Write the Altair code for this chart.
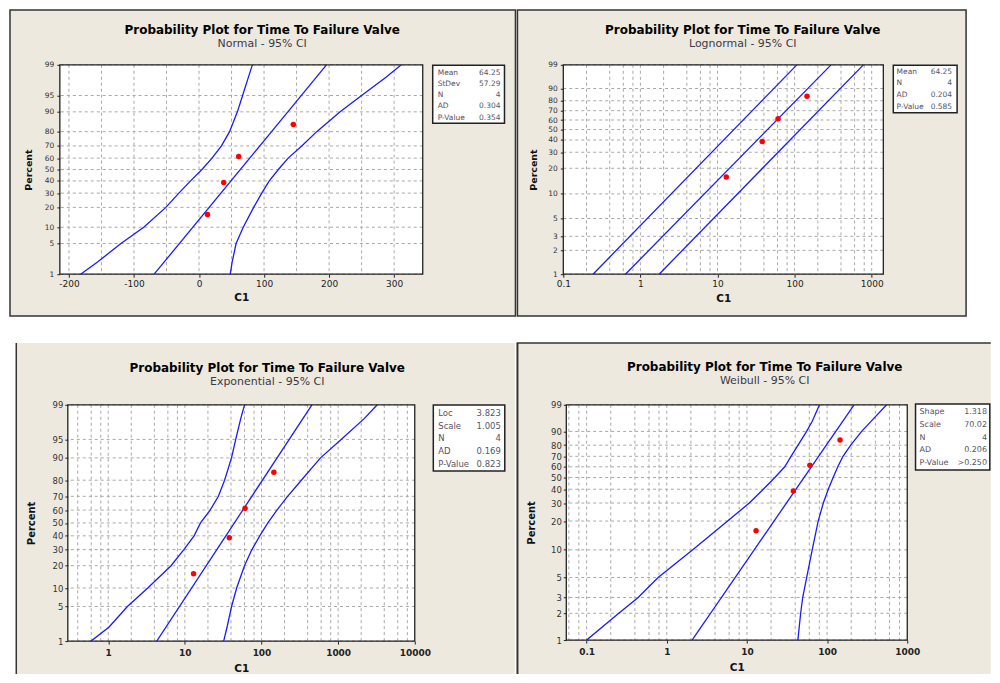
import math
from statistics import NormalDist
import altair as alt

# ---------------- values ----------------
FAIL_TIMES = [13, 38, 61, 145]
MEDIAN_RANKS = [15.9, 38.6, 61.4, 84.1]

MAIN_TITLE = "Probability Plot for Time To Failure Valve"
SUBTITLES = ["Normal - 95% CI", "Lognormal - 95% CI", "Exponential - 95% CI", "Weibull - 95% CI"]

# panel 1 (normal)
P1_PCT = [1, 2, 5, 10, 20, 30, 40, 50, 60, 70, 80, 90, 95, 98, 99]
P1_LOWER = [-182, -156, -120, -85, -51, -31, -13, 4.5, 20, 34.5, 47, 59, 67, 76, 82]
P1_UPPER = [48, 51, 57, 68, 84, 96.5, 108, 122, 137, 158, 181, 217, 250, 288, 311]
P1_FIT_PCT = [1, 99]
P1_FIT = [-69, 196]
P1_YTICKS = [1, 5, 10, 20, 30, 40, 50, 60, 70, 80, 90, 95, 99]
P1_XLABELS = [-200, -100, 0, 100, 200, 300]
P1_XGRID = [-200, -150, -100, -50, 0, 50, 100, 150, 200, 250, 300]
P1_STAT_LABELS = ["Mean", "StDev", "N", "AD", "P-Value"]
P1_STAT_VALUES = ["64.25", "57.29", "4", "0.304", "0.354"]

# panel 2
P2_PCT = [1, 99]
P2_LOWER = [0.243, 107]
P2_FIT = [0.64, 297]
P2_UPPER = [1.75, 780]
P2_YTICKS = [1, 2, 3, 5, 10, 20, 30, 40, 50, 60, 70, 80, 90, 99]
P2_XLABELS = [0.1, 1, 10, 100, 1000]
P2_XGRID = [0.2, 0.4, 0.6, 0.8, 1, 2, 4, 6, 8, 10, 20, 40, 60, 80, 100,
            200, 400, 600, 800, 1000]
P2_STAT_LABELS = ["Mean", "N", "AD", "P-Value"]
P2_STAT_VALUES = ["64.25", "4", "0.204", "0.585"]

# panel 3
P3_PCT = [1, 2, 5, 10, 20, 30, 40, 50, 60, 70, 80, 90, 95, 98, 99]
P3_LOWER = [0.596, 1.02, 1.78, 3.28, 6.6, 9.7, 13.2, 16.0, 21.4, 27.4, 33.0, 40.6, 46.1, 53.6, 60.1]
P3_UPPER = [32.1, 35.5, 40.7, 47.4, 60, 75, 95, 121, 159, 219, 331, 589, 1096, 2188, 3243]
P3_FIT_PCT = [1, 99]
P3_FIT = [4.3, 455]
P3_YTICKS = [1, 5, 10, 20, 30, 40, 50, 60, 70, 80, 90, 95, 99]
P3_XLABELS = [1, 10, 100, 1000, 10000]
P3_XGRID = [0.4, 0.6, 0.8, 1, 2, 4, 6, 8, 10, 20, 40, 60, 80, 100, 200, 400,
            600, 800, 1000, 2000, 4000, 6000, 8000]
P3_STAT_LABELS = ["Loc", "Scale", "N", "AD", "P-Value"]
P3_STAT_VALUES = ["3.823", "1.005", "4", "0.169", "0.823"]

# panel 4
P4_PCT = [1, 2, 3, 5, 10, 20, 30, 40, 50, 60, 70, 80, 90, 95, 99]
P4_LOWER = [0.1, 0.252, 0.44, 0.78, 2.11, 5.74, 10.7, 16.0, 22.3, 29.6, 35.5, 43.4, 55.5, 65.3, 80.4]
P4_UPPER = [43.2, 46.8, 49.6, 55.6, 65.2, 77.4, 89.7, 103.5, 119, 136, 158, 197, 270, 353, 553]
P4_FIT_PCT = [1, 99]
P4_FIT = [2.07, 217]
P4_YTICKS = [1, 2, 3, 5, 10, 20, 30, 40, 50, 60, 70, 80, 90, 99]
P4_XLABELS = [0.1, 1, 10, 100, 1000]
P4_XGRID = [0.06, 0.08, 0.1, 0.2, 0.4, 0.6, 0.8, 1, 2, 4, 6, 8, 10, 20, 40,
            60, 80, 100, 200, 400, 600, 800]
P4_STAT_LABELS = ["Shape", "Scale", "N", "AD", "P-Value"]
P4_STAT_VALUES = ["1.318", "70.02", "4", "0.206", ">0.250"]

# ---------------- styling ----------------
FONT = "DejaVu Sans"
BEIGE = "#EDE9DF"
FRAME = "#333333"
BLUE = "#1a1aff"
RED = "#ff0000"
GRID = "#a8a8a8"


def one_row():
    return alt.Data(values=[{"k": 0}])


def deco_rect(x, x2, y, y2, **mk):
    return alt.Chart(one_row()).mark_rect(**mk).encode(
        x=alt.value(x), x2=alt.value(x2), y=alt.value(y), y2=alt.value(y2))


def spacer(w):
    return deco_rect(0, w, 0, 1, opacity=0).properties(width=w, height=1)


def build_panel(c):
    W, H = c["w"], c["h"]
    if c["yscale"] == "normal":
        nd = NormalDist()
        expr = "quantileNormal(datum.p / 100)"
        f = lambda p: nd.inv_cdf(p / 100.0)
        lab = "format(cumulativeNormal(datum.value) * 100, '.0f')"
    else:
        expr = "log(-log(1 - datum.p / 100))"
        f = lambda p: math.log(-math.log(1 - p / 100.0))
        lab = "format((1 - exp(-exp(datum.value))) * 100, '.0f')"
    yvals = [f(p) for p in c["yticks"]]
    yscale = alt.Scale(domain=[f(1), f(99)], nice=False, zero=False)
    yaxis = alt.Axis(values=yvals, labelExpr=lab, title="Percent", grid=False,
                     domain=False, tickSize=3, tickColor="#222", labelFont=FONT,
                     labelFontSize=c["ylab_fs"], labelColor="#333", labelPadding=c["ylabpad"],
                     labelOverlap=False, titleFont=FONT, titleFontSize=c["ytitle_fs"],
                     titleFontWeight="bold", titleColor="#111", titlePadding=c["ytitlepad"],
                     zindex=1)
    if c["xtype"] == "log":
        xscale = alt.Scale(type="log", domain=c["xdom"], nice=False)
        xaxis_fmt = dict(format="~g")
    else:
        xscale = alt.Scale(domain=c["xdom"], nice=False, zero=False)
        xaxis_fmt = dict(labelExpr="'' + datum.value")
    xaxis = alt.Axis(values=c["xlabels"], title="C1", grid=False, domain=False,
                     tickSize=3, tickColor="#222", labelFont=FONT, labelFontSize=c["xlab_fs"],
                     labelFontWeight=c["xlab_w"], labelColor="#222", labelPadding=c["xlabpad"],
                     labelFlush=False, labelOverlap=False, titleFont=FONT,
                     titleFontSize=c["xtitle_fs"], titleFontWeight="bold", titleColor="#111",
                     titlePadding=c["xtitlepad"], zindex=1, **xaxis_fmt)

    layers = []
    bg = c["bg"]
    if c["frame_all"]:
        layers.append(deco_rect(bg[0], bg[1], bg[2], bg[3], fill=BEIGE,
                                stroke=FRAME, strokeWidth=1.5))
    else:
        layers.append(deco_rect(bg[0], bg[1], bg[2], bg[3], fill=BEIGE))
    for r in c.get("rules", []):
        if r[0] == "v":
            layers.append(alt.Chart(one_row()).mark_rule(color=FRAME, strokeWidth=r[4]).encode(
                x=alt.value(r[1]), y=alt.value(r[2]), y2=alt.value(r[3])))
        else:
            layers.append(alt.Chart(one_row()).mark_rule(color=FRAME, strokeWidth=r[4]).encode(
                y=alt.value(r[1]), x=alt.value(r[2]), x2=alt.value(r[3])))
    # plot area
    layers.append(deco_rect(0, W, 0, H, fill="white"))
    # grid
    layers.append(alt.Chart(alt.Data(values=[{"v": v} for v in c["xgrid"]]))
                  .mark_rule(color=GRID, strokeDash=[3, 3], strokeWidth=1)
                  .encode(x=alt.X("v:Q", scale=xscale, axis=xaxis)))
    layers.append(alt.Chart(alt.Data(values=[{"p": p} for p in c["yticks"]]))
                  .transform_calculate(t=expr)
                  .mark_rule(color=GRID, strokeDash=[3, 3], strokeWidth=1)
                  .encode(y=alt.Y("t:Q", scale=yscale, axis=yaxis)))
    # curves
    rows = []
    for name, pcts, xs in c["curves"]:
        for p, x in zip(pcts, xs):
            rows.append({"curve": name, "p": p, "x": x})
    layers.append(alt.Chart(alt.Data(values=rows)).transform_calculate(t=expr)
                  .mark_line(color=BLUE, strokeWidth=1.3, clip=True)
                  .encode(x=alt.X("x:Q", scale=xscale, axis=xaxis),
                          y=alt.Y("t:Q", scale=yscale, axis=yaxis),
                          detail="curve:N", order="p:Q"))
    # points
    pts = [{"x": x, "p": p} for x, p in zip(FAIL_TIMES, MEDIAN_RANKS)]
    layers.append(alt.Chart(alt.Data(values=pts)).transform_calculate(t=expr)
                  .mark_circle(color=RED, size=30, opacity=1)
                  .encode(x=alt.X("x:Q", scale=xscale, axis=xaxis),
                          y=alt.Y("t:Q", scale=yscale, axis=yaxis)))
    # plot frame
    layers.append(deco_rect(0, W, 0, H, fill="transparent", stroke="#222", strokeWidth=1.3))
    # stats box
    b = c["box"]
    layers.append(deco_rect(b[0], b[1], b[2], b[3], fill="white", stroke="#222", strokeWidth=1.5))
    layers.append(alt.Chart(one_row()).mark_text(
        align="left", baseline="middle", lineBreak="\n", lineHeight=c["stat_lh"],
        font=FONT, fontSize=c["stat_fs"], color="#5a5060").encode(
        x=alt.value(c["lab_x"]), y=alt.value(c["row_y"]),
        text=alt.value("\n".join(c["stat_labels"]))))
    layers.append(alt.Chart(one_row()).mark_text(
        align="right", baseline="middle", lineBreak="\n", lineHeight=c["stat_lh"],
        font=FONT, fontSize=c["stat_fs"], color="#50586a").encode(
        x=alt.value(c["val_x"]), y=alt.value(c["row_y"]),
        text=alt.value("\n".join(c["stat_values"]))))

    title = alt.TitleParams(
        text=MAIN_TITLE, subtitle=c["subtitle"], anchor="middle", frame="group",
        dx=c["title_dx"], offset=c["title_off"], font=FONT, fontSize=12, fontWeight="bold",
        color="#000", subtitleFont=FONT, subtitleFontSize=11, subtitleColor="#3a3a48",
        subtitlePadding=1, zindex=1)
    return alt.layer(*layers).properties(width=W, height=H, title=title)


CFG = [
    dict(w=364, h=210, yscale="normal", yticks=P1_YTICKS, xtype="linear", xdom=[-214, 344],
         xlabels=P1_XLABELS, xgrid=P1_XGRID,
         curves=[("lower", P1_PCT, P1_LOWER), ("upper", P1_PCT, P1_UPPER), ("fit", P1_FIT_PCT, P1_FIT)],
         bg=(-50, 364 + 93, -55, 252), frame_all=True,
         box=(374, 446, 0.5, 58.5), lab_x=379, val_x=442, row_y=7.7, stat_lh=11.3, stat_fs=7.5,
         stat_labels=P1_STAT_LABELS, stat_values=P1_STAT_VALUES,
         subtitle=SUBTITLES[0], title_dx=21, title_off=-41,
         ylab_fs=7.5, ylabpad=3, ytitle_fs=9.5, ytitlepad=11,
         xlab_fs=9, xlab_w="normal", xlabpad=2, xtitle_fs=10.5, xtitlepad=4),
    dict(w=321, h=210, yscale="weibull", yticks=P2_YTICKS, xtype="log", xdom=[0.1, 1416],
         xlabels=P2_XLABELS, xgrid=P2_XGRID,
         curves=[("lower", P2_PCT, P2_LOWER), ("upper", P2_PCT, P2_UPPER), ("fit", P2_PCT, P2_FIT)],
         bg=(-46, 321 + 83, -55, 252), frame_all=True,
         box=(331, 395, 0.3, 48), lab_x=334.3, val_x=390, row_y=7, stat_lh=11.7, stat_fs=7.5,
         stat_labels=P2_STAT_LABELS, stat_values=P2_STAT_VALUES,
         subtitle=SUBTITLES[1], title_dx=19.5, title_off=-41,
         ylab_fs=7.5, ylabpad=3, ytitle_fs=9.5, ytitlepad=9,
         xlab_fs=9, xlab_w="normal", xlabpad=2, xtitle_fs=10.5, xtitlepad=5),
    dict(w=348, h=237, yscale="normal", yticks=P3_YTICKS, xtype="log", xdom=[0.297, 10000],
         xlabels=P3_XLABELS, xgrid=P3_XGRID,
         curves=[("lower", P3_PCT, P3_LOWER), ("upper", P3_PCT, P3_UPPER), ("fit", P3_FIT_PCT, P3_FIT)],
         bg=(-51.7, 348 + 100.3, -62, 237 + 33), frame_all=False,
         rules=[("v", -51.7, -62, 237 + 33, 1.5)],
         box=(366.6, 438.3, 0.3, 66.3), lab_x=371.6, val_x=434.3, row_y=8, stat_lh=12.9, stat_fs=8.5,
         stat_labels=P3_STAT_LABELS, stat_values=P3_STAT_VALUES,
         subtitle=SUBTITLES[2], title_dx=26, title_off=-45.5,
         ylab_fs=8.5, ylabpad=2, ytitle_fs=10, ytitlepad=16,
         xlab_fs=9, xlab_w="bold", xlabpad=4, xtitle_fs=10.5, xtitlepad=6.5),
    dict(w=342, h=236, yscale="weibull", yticks=P4_YTICKS, xtype="log", xdom=[0.0558, 1000],
         xlabels=P4_XLABELS, xgrid=P4_XGRID,
         curves=[("lower", P4_PCT, P4_LOWER), ("upper", P4_PCT, P4_UPPER), ("fit", P4_FIT_PCT, P4_FIT)],
         bg=(-49.7, 342 + 83.8, -62, 236 + 34), frame_all=False,
         rules=[("v", -49, -62, 236 + 34, 2), ("h", -62, -49.7, 342 + 83.8, 1.5)],
         box=(350.3, 424.8, -0.7, 65.3), lab_x=354.3, val_x=422, row_y=7.7, stat_lh=12.7, stat_fs=8,
         stat_labels=P4_STAT_LABELS, stat_values=P4_STAT_VALUES,
         subtitle=SUBTITLES[3], title_dx=28, title_off=-45.5,
         ylab_fs=8.5, ylabpad=2, ytitle_fs=10, ytitlepad=14,
         xlab_fs=9, xlab_w="bold", xlabpad=4, xtitle_fs=10.5, xtitlepad=6.5),
]

panels = [build_panel(c) for c in CFG]
row1 = alt.hconcat(spacer(1), panels[0], panels[1], spacing=0)
row2 = alt.hconcat(spacer(7), panels[2], panels[3], spacing=0)
chart = (alt.vconcat(row1, row2, spacing=25)
         .properties(padding=0, background="white")
         .configure(font=FONT)
         .configure_view(strokeWidth=0))

chart.save("out.html", embed_options={"renderer": "svg", "actions": False})
